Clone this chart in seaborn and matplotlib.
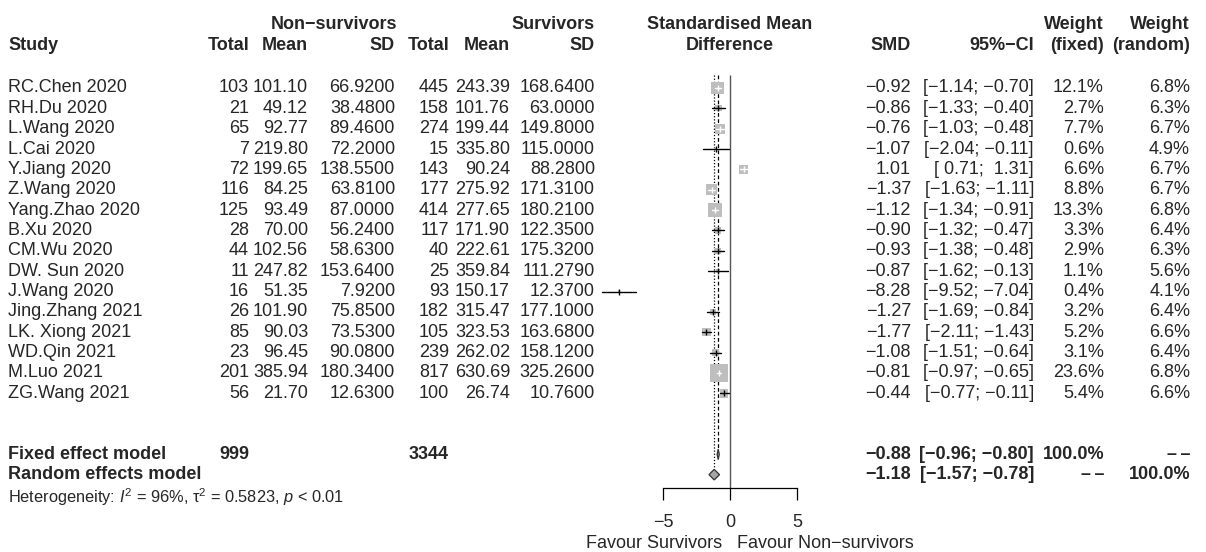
import numpy as np
import pandas as pd
import seaborn as sns
from matplotlib import pyplot as plt
from matplotlib.transforms import blended_transform_factory

# Studies and their data
studies = ['RC.Chen 2020', 'RH.Du 2020', 'L.Wang 2020', 'L.Cai 2020', 'Y.Jiang 2020',
           'Z.Wang 2020', 'Yang.Zhao 2020', 'B.Xu 2020', 'CM.Wu 2020', 'DW. Sun 2020',
           'J.Wang 2020', 'Jing.Zhang 2021', 'LK. Xiong 2021', 'WD.Qin 2021',
           'M.Luo 2021', 'ZG.Wang 2021']
n_ns = [103, 21, 65, 7, 72, 116, 125, 28, 44, 11, 16, 26, 85, 23, 201, 56]
mean_ns = [101.10, 49.12, 92.77, 219.80, 199.65, 84.25, 93.49, 70.00, 102.56, 247.82,
           51.35, 101.90, 90.03, 96.45, 385.94, 21.70]
sd_ns = [66.92, 38.48, 89.46, 72.20, 138.55, 63.81, 87.00, 56.24, 58.63, 153.64,
         7.92, 75.85, 73.53, 90.08, 180.34, 12.63]
n_s = [445, 158, 274, 15, 143, 177, 414, 117, 40, 25, 93, 182, 105, 239, 817, 100]
mean_s = [243.39, 101.76, 199.44, 335.80, 90.24, 275.92, 277.65, 171.90, 222.61, 359.84,
          150.17, 315.47, 323.53, 262.02, 630.69, 26.74]
sd_s = [168.64, 63.00, 149.80, 115.00, 88.28, 171.31, 180.21, 122.35, 175.32, 111.279,
        12.37, 177.10, 163.68, 158.12, 325.26, 10.76]
smd = [-0.92, -0.86, -0.76, -1.07, 1.01, -1.37, -1.12, -0.90, -0.93, -0.87,
       -8.28, -1.27, -1.77, -1.08, -0.81, -0.44]
ci_lo = [-1.14, -1.33, -1.03, -2.04, 0.71, -1.63, -1.34, -1.32, -1.38, -1.62,
         -9.52, -1.69, -2.11, -1.51, -0.97, -0.77]
ci_hi = [-0.70, -0.40, -0.48, -0.11, 1.31, -1.11, -0.91, -0.47, -0.48, -0.13,
         -7.04, -0.84, -1.43, -0.64, -0.65, -0.11]
w_fixed = [12.1, 2.7, 7.7, 0.6, 6.6, 8.8, 13.3, 3.3, 2.9, 1.1, 0.4, 3.2, 5.2, 3.1, 23.6, 5.4]
w_random = [6.8, 6.3, 6.7, 4.9, 6.7, 6.7, 6.8, 6.4, 6.3, 5.6, 4.1, 6.4, 6.6, 6.4, 6.8, 6.6]

# pooled results
fixed_est, fixed_lo, fixed_hi = -0.88, -0.96, -0.80
random_est, random_lo, random_hi = -1.18, -1.57, -0.78
total_ns, total_s = 999, 3344
het_text = r'Heterogeneity: $I^2$ = 96%, $\mathrm{\tau}^2$ = 0.5823, $p$ < 0.01'

sns.set_style('white')
plt.rcParams['font.family'] = ['Liberation Sans', 'DejaVu Sans']
plt.rcParams['mathtext.fontset'] = 'custom'
plt.rcParams['mathtext.rm'] = 'Liberation Sans'
plt.rcParams['mathtext.it'] = 'Liberation Sans:italic'
plt.rcParams['mathtext.bf'] = 'Liberation Sans:bold'

W, H = 1206, 552
fig = plt.figure(figsize=(W / 100, H / 100), dpi=100)
ax = fig.add_axes([0, 0, 1, 1])
ax.set_facecolor('white')

# 13.4 px per SMD unit, zero at pixel 730; rows 20.35 px apart starting at 88
px_unit = 13.4
row_px = 20.35
ax.set_xlim(-730 / px_unit, (W - 730) / px_unit)
ax.set_ylim((H - 88) / row_px, -88 / row_px)

k = len(studies)
rows = np.arange(k)
fixed_row, random_row = k + 2, k + 3

df = pd.DataFrame({'study': studies, 'smd': smd, 'lo': ci_lo, 'hi': ci_hi,
                   'wf': w_fixed, 'row': rows})

# squares: area proportional to fixed weight
box_px = 18 * np.sqrt(df['wf'] / df['wf'].max())
kk = (18 * 0.72) ** 2 / df['wf'].max()
sns.scatterplot(data=df, x='smd', y='row', size='wf',
                sizes=(kk * df['wf'].min(), kk * df['wf'].max()),
                marker='s', color='#bebebe', linewidth=0, legend=False, ax=ax, zorder=3)

for i, r in df.iterrows():
    inside = (r['hi'] - r['lo']) * px_unit < box_px[i]
    col = 'white' if inside else 'black'
    ax.plot([r['lo'], r['hi']], [r['row'], r['row']], color=col, lw=1.0, zorder=4)
    ax.plot([r['smd']], [r['row']], marker='|', color=col, markersize=5,
            markeredgewidth=1.0, zorder=4)

# diamonds
for est, lo, hi, rw in [(fixed_est, fixed_lo, fixed_hi, fixed_row),
                        (random_est, random_lo, random_hi, random_row)]:
    ax.fill([lo, est, hi, est], [rw, rw - 0.26, rw, rw + 0.26],
            facecolor='#a6a6a6', edgecolor='#333333', lw=0.9, zorder=4)

# reference lines
axis_row = 19.66
ax.vlines(0, -0.64, axis_row, color='#555555', lw=1.0, zorder=2)
ax.vlines(fixed_est, -0.64, fixed_row - 0.26, color='black', lw=0.9,
          linestyles=(0, (3, 2)), zorder=2)
ax.vlines(random_est, -0.64, random_row - 0.26, color='black', lw=0.9,
          linestyles=(0, (1, 1.5)), zorder=2)

# x axis
fs = 13
for s in ['top', 'left', 'right']:
    ax.spines[s].set_visible(False)
ax.spines['bottom'].set_position(('data', axis_row))
ax.spines['bottom'].set_bounds(-5, 5)
ax.spines['bottom'].set_color('black')
ax.spines['bottom'].set_linewidth(0.9)
ax.set_xticks([-5, 0, 5])
ax.set_yticks([])
ax.tick_params(axis='x', direction='out', length=8.6, width=0.9, color='black',
               pad=10, labelsize=fs, bottom=True)
ax.set_xlabel('')
ax.set_ylabel('')
ax.text(-0.6, 22.4, 'Favour Survivors', ha='right', va='center', fontsize=fs)
ax.text(0.5, 22.4, 'Favour Non\u2212survivors', ha='left', va='center', fontsize=fs)

# text columns
tr = blended_transform_factory(fig.transFigure, ax.transData)


def put(xpx, row, s, ha='right', bold=False, size=fs):
    ax.text(xpx / W, row, s, transform=tr, ha=ha, va='center', fontsize=size,
            fontweight='bold' if bold else 'normal', clip_on=False)


def mfmt(v, nd=2):
    return f'{v:.{nd}f}'.replace('-', '\u2212')


dash2 = '\u2013\u2009\u2013'

h1, h2 = -3.14, -2.11
put(397, h1, 'Non\u2212survivors', bold=True)
put(595, h1, 'Survivors', bold=True)
put(730, h1, 'Standardised Mean', ha='center', bold=True)
put(730, h2, 'Difference', ha='center', bold=True)
put(1104, h1, 'Weight', bold=True)
put(1190, h1, 'Weight', bold=True)
put(8, h2, 'Study', ha='left', bold=True)
for xpx, lab in [(249, 'Total'), (308, 'Mean'), (395, 'SD'), (449, 'Total'),
                 (510, 'Mean'), (595, 'SD'), (911, 'SMD'), (1034, '95%\u2212CI'),
                 (1104, '(fixed)'), (1190, '(random)')]:
    put(xpx, h2, lab, bold=True)

for i in range(k):
    put(8, i, studies[i], ha='left')
    put(249, i, str(n_ns[i]))
    put(308, i, f'{mean_ns[i]:.2f}')
    put(395, i, f'{sd_ns[i]:.4f}')
    put(449, i, str(n_s[i]))
    put(510, i, f'{mean_s[i]:.2f}')
    put(595, i, f'{sd_s[i]:.4f}')
    put(911, i, mfmt(smd[i]))
    put(1034, i, '[' + f'{ci_lo[i]:5.2f}; {ci_hi[i]:5.2f}'.replace('-', '\u2212') + ']')
    put(1104, i, f'{w_fixed[i]:.1f}%')
    put(1190, i, f'{w_random[i]:.1f}%')

put(8, fixed_row, 'Fixed effect model', ha='left', bold=True)
put(249, fixed_row, str(total_ns), bold=True)
put(449, fixed_row, str(total_s), bold=True)
put(911, fixed_row, mfmt(fixed_est), bold=True)
put(1034, fixed_row, '[' + f'{fixed_lo:.2f}; {fixed_hi:.2f}'.replace('-', '\u2212') + ']', bold=True)
put(1104, fixed_row, '100.0%', bold=True)
put(1190, fixed_row, dash2, bold=True)

put(8, random_row, 'Random effects model', ha='left', bold=True)
put(911, random_row, mfmt(random_est), bold=True)
put(1034, random_row, '[' + f'{random_lo:.2f}; {random_hi:.2f}'.replace('-', '\u2212') + ']', bold=True)
put(1104, random_row, dash2, bold=True)
put(1190, random_row, '100.0%', bold=True)

put(8, 20.1, het_text, ha='left', size=11.8)

fig.savefig('out.png', dpi=100)
